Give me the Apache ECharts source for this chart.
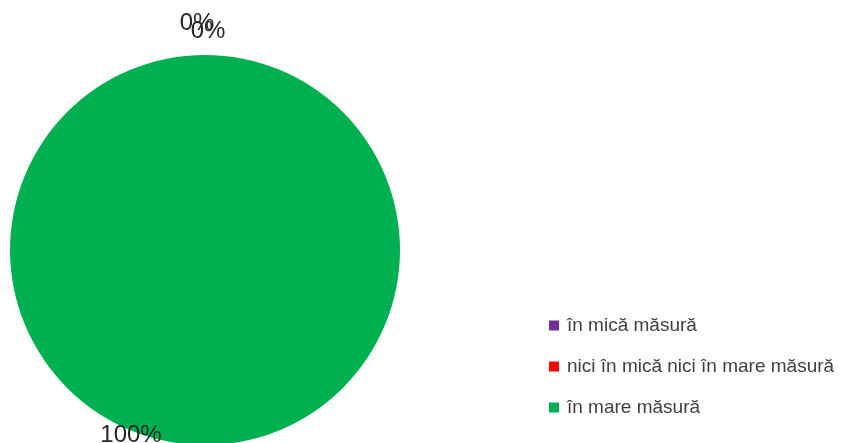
<!DOCTYPE html>
<html>
<head>
<meta charset="utf-8">
<script src="https://cdn.jsdelivr.net/npm/echarts@6/dist/echarts.min.js"></script>
<style>html,body{margin:0;padding:0;background:#fff}#c{width:841px;height:443px}</style>
</head>
<body>
<div id="c"></div>
<script>
var categories = ['în mică măsură', 'nici în mică nici în mare măsură', 'în mare măsură'];
var values = [0, 0, 100];
var colors = ['#7030A0', '#FF0000', '#00B050'];

var chart = echarts.init(document.getElementById('c'));
var labelPos = [[197, 23], [208, 31], [131, 435]];
chart.setOption({
  animation: false,
  color: colors,
  legend: {
    orient: 'vertical',
    left: 544,
    top: 311,
    padding: 5,
    itemWidth: 10,
    itemHeight: 10,
    itemGap: 22,
    icon: 'rect',
    textStyle: { fontFamily: 'Liberation Sans', fontSize: 19, color: '#404040', padding: [0, 0, 0, 3] },
    data: categories
  },
  series: [{
    type: 'pie',
    center: [205, 250],
    radius: [0, 195],
    startAngle: 90,
    clockwise: true,
    avoidLabelOverlap: false,
    label: {
      show: true,
      position: 'outside',
      fontFamily: 'Liberation Sans',
      fontSize: 24,
      color: '#262626',
      formatter: function (p) { return Math.round(p.percent) + '%'; }
    },
    labelLine: { show: false },
    labelLayout: function (p) {
      var pos = labelPos[p.dataIndex];
      return { x: pos[0], y: pos[1], align: 'center', verticalAlign: 'middle' };
    },
    itemStyle: { borderWidth: 0 },
    emphasis: { disabled: true },
    data: categories.map(function (c, i) { return { name: c, value: values[i] }; })
  }]
});
</script>
</body>
</html>
